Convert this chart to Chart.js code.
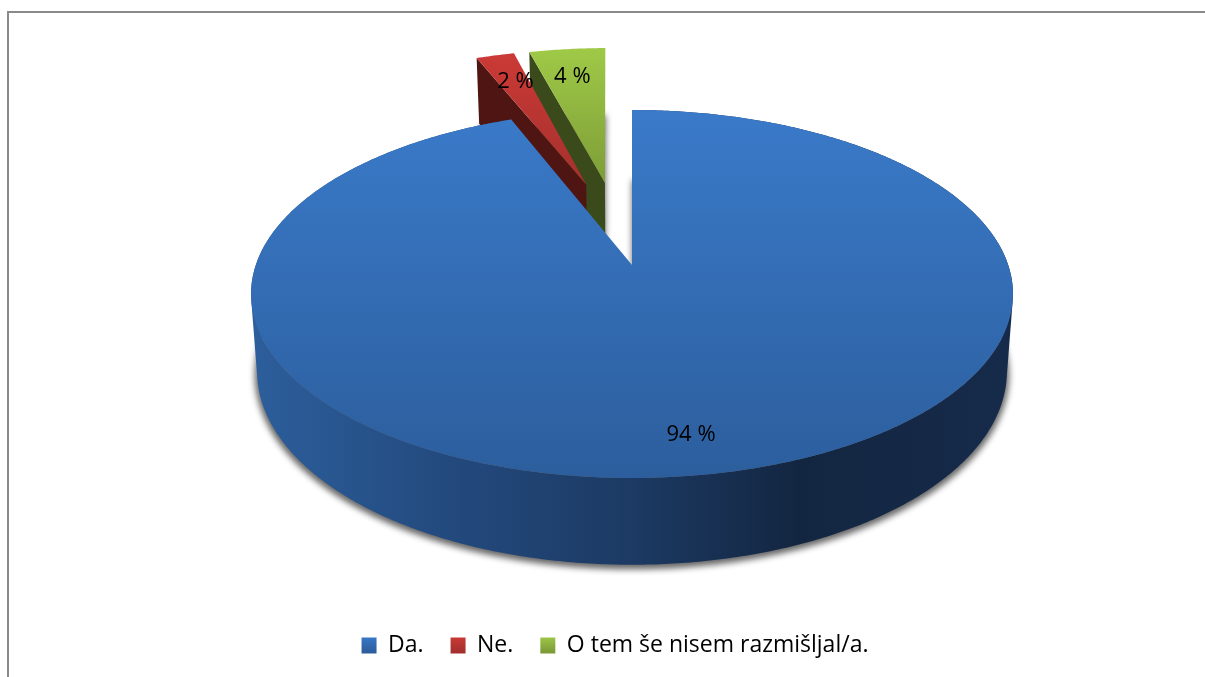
<!DOCTYPE html>
<html>
<head>
<meta charset="utf-8">
<style>html,body{margin:0;padding:0;background:#fff}canvas{display:block}</style>
<script src="https://cdn.jsdelivr.net/npm/chart.js@4"></script>
</head>
<body>
<canvas id="c" width="1205" height="677"></canvas>
<script>
const categories = ['Da.', 'Ne.', 'O tem še nisem razmišljal/a.'];
const percentValues = [94, 2, 4];
const valueLabels = ['94 %', '2 %', '4 %'];
const sliceTopColors = ['#3a7ac9', '#cd3a36', '#9fca47'];
const sliceLowColors = ['#2c5e9d', '#a3302d', '#7c9a37'];
const wallColors = [null, '#4e1513', '#3a4a1b'];
const pullOut = [0, 0.5, 0.5];
const pullTurn = [0, 0.049, -0.03];
const faceTurn = [0, -0.006, -0.01];
const labelRadius = [0.84, 0.77, 0.77];
const labelNudge = [-9, 0, -5];

// perspective projection of the pie disk
const X0 = 632, Y0 = 265, A = 376.2, B = 179.4, P = 0.1576, C = 76, SHRINK = 0.016;
function proj(u, v, z) {
  const w = 1 - P * v, s = 1 - SHRINK * z;
  return [X0 + A * u * s / w, Y0 + (B * v * s + C * z) / w];
}
function sectorPath(ctx, arc, ox, oy, z, dy, grow, turn) {
  ctx.beginPath();
  let p = proj(ox, oy, z);
  ctx.moveTo(p[0], p[1] + dy);
  const n = Math.max(4, Math.ceil((arc.endAngle - arc.startAngle) / 0.01));
  for (let i = 0; i <= n; i++) {
    const a = arc.startAngle + turn + (arc.endAngle - arc.startAngle) * i / n;
    p = proj(ox + grow * Math.cos(a), oy + grow * Math.sin(a), z);
    ctx.lineTo(p[0], p[1] + dy);
  }
  ctx.closePath();
}
function offsetOf(arc, i) {
  const mid = (arc.startAngle + arc.endAngle) / 2 + pullTurn[i];
  return [pullOut[i] * Math.cos(mid), pullOut[i] * Math.sin(mid)];
}
function rimPath(ctx, arc) {
  ctx.beginPath();
  const n = Math.ceil((arc.endAngle - arc.startAngle) / 0.01);
  for (let i = 0; i < n; i++) {
    const a0 = arc.startAngle + (arc.endAngle - arc.startAngle) * i / n;
    const a1 = arc.startAngle + (arc.endAngle - arc.startAngle) * (i + 1) / n;
    let q = [proj(Math.cos(a0), Math.sin(a0), 0), proj(Math.cos(a1), Math.sin(a1), 0),
             proj(Math.cos(a1), Math.sin(a1), 1), proj(Math.cos(a0), Math.sin(a0), 1)];
    let area = 0;
    q.forEach((p, k) => { const r = q[(k + 1) % 4]; area += p[0] * r[1] - r[0] * p[1]; });
    if (area < 0) q = q.reverse();
    q.forEach((p, k) => k ? ctx.lineTo(p[0], p[1]) : ctx.moveTo(p[0], p[1]));
    ctx.closePath();
  }
}
function topFace(ctx, arc, i, ox, oy) {
  sectorPath(ctx, arc, ox, oy, 0, 0, 1, faceTurn[i]);
  const yTop = i === 0 ? 110 : 47, yLow = i === 0 ? 478 : 190;
  const g = ctx.createLinearGradient(0, yTop, 0, yLow);
  g.addColorStop(0, sliceTopColors[i]);
  g.addColorStop(1, sliceLowColors[i]);
  ctx.fillStyle = g;
  ctx.fill();
}
function wall(ctx, arc, i, ox, oy) {
  const a = arc.startAngle + faceTurn[i];
  const pts = [proj(ox, oy, 0), proj(ox + Math.cos(a), oy + Math.sin(a), 0),
               proj(ox + Math.cos(a), oy + Math.sin(a), 1), proj(ox, oy, 1)];
  ctx.beginPath();
  pts.forEach((p, k) => k ? ctx.lineTo(p[0], p[1]) : ctx.moveTo(p[0], p[1]));
  ctx.closePath();
  ctx.fillStyle = wallColors[i];
  ctx.fill();
}

const pie3d = {
  id: 'pie3d',
  beforeDraw(chart) {
    const ctx = chart.ctx;
    ctx.save();
    ctx.fillStyle = '#fff';
    ctx.fillRect(0, 0, chart.width, chart.height);
    ctx.fillStyle = '#8a8a8a';
    ctx.fillRect(7, 11, chart.width - 7, 2);
    ctx.fillRect(7, 11, 2, chart.height - 11);
    ctx.restore();
  },
  beforeDatasetsDraw(chart) {
    const ctx = chart.ctx, arcs = chart.getDatasetMeta(0).data;
    ctx.save();
    // soft shadow from the lower faces
    ctx.filter = 'blur(3px)';
    ctx.fillStyle = 'rgba(0,0,0,0.6)';
    arcs.forEach((arc, i) => {
      const o = offsetOf(arc, i);
      sectorPath(ctx, arc, o[0], o[1], 1, 3, 1.006, faceTurn[i]);
      ctx.fill();
    });
    ctx.filter = 'none';
    // order: green, red, blue
    [2, 1].forEach(i => {
      const o = offsetOf(arcs[i], i);
      wall(ctx, arcs[i], i, o[0], o[1]);
      topFace(ctx, arcs[i], i, o[0], o[1]);
    });
    rimPath(ctx, arcs[0]);
    const rg = ctx.createLinearGradient(257, 0, 1008, 0);
    rg.addColorStop(0, '#2c5e9b');
    rg.addColorStop(0.25, '#234a7e');
    rg.addColorStop(0.5, '#1c3a63');
    rg.addColorStop(0.72, '#132641');
    rg.addColorStop(1, '#162a4a');
    ctx.fillStyle = rg;
    ctx.fill('nonzero');
    topFace(ctx, arcs[0], 0, 0, 0);
    // value labels
    ctx.fillStyle = '#000';
    ctx.font = '22px "Open Sans"';
    ctx.textAlign = 'center';
    ctx.textBaseline = 'middle';
    arcs.forEach((arc, i) => {
      const o = offsetOf(arc, i), mid = (arc.startAngle + arc.endAngle) / 2;
      const p = proj(o[0] + labelRadius[i] * Math.cos(mid), o[1] + labelRadius[i] * Math.sin(mid), 0);
      ctx.fillText(valueLabels[i], p[0] + labelNudge[i], p[1]);
    });
    ctx.restore();
    return false;
  }
};

new Chart(document.getElementById('c'), {
  type: 'pie',
  data: {
    labels: categories,
    datasets: [{ data: percentValues, backgroundColor: sliceTopColors, borderWidth: 0 }]
  },
  options: {
    responsive: false,
    animation: false,
    layout: { padding: { left: 25, bottom: 10 } },
    plugins: {
      tooltip: { enabled: false },
      title: { display: false },
      legend: {
        position: 'bottom',
        labels: {
          boxWidth: 15,
          boxHeight: 16,
          padding: 27,
          color: '#000',
          font: { family: 'Open Sans', size: 23 },
          generateLabels(chart) {
            const ctx = chart.ctx;
            return categories.map((t, i) => {
              const g = ctx.createLinearGradient(0, 636, 0, 652);
              g.addColorStop(0, sliceTopColors[i]);
              g.addColorStop(1, sliceLowColors[i]);
              return { text: t, fillStyle: g, strokeStyle: 'rgba(0,0,0,0)', lineWidth: 0, hidden: false, index: i };
            });
          }
        }
      }
    }
  },
  plugins: [pie3d]
});
</script>
</body>
</html>
